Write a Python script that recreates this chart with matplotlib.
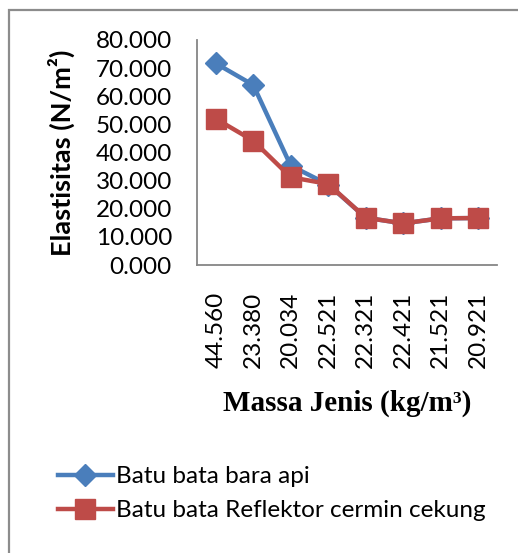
import matplotlib
matplotlib.use("Agg")
import matplotlib.pyplot as plt
from matplotlib.patches import Rectangle
from matplotlib.ticker import FuncFormatter, MultipleLocator

categories = ["44.560", "23.380", "20.034", "22.521", "22.321", "22.421", "21.521", "20.921"]
bara_api = [71.7, 64.0, 35.3, 28.6, 16.8, 14.8, 16.6, 16.7]
reflektor = [52.0, 44.2, 31.2, 28.8, 16.8, 14.8, 16.6, 16.7]
series_names = ["Batu bata bara api", "Batu bata Reflektor cermin cekung"]

W, H = 518, 553
fig = plt.figure(figsize=(W / 100, H / 100), dpi=100)
fig.patch.set_facecolor("white")

# outer chart frame
fig.patches.append(Rectangle((9 / W, -0.05), 1.2, (H - 10) / H + 0.05, transform=fig.transFigure,
                             fill=False, edgecolor="#8c8c8c", linewidth=1.6))

ax = fig.add_axes([197 / W, 1 - 265 / H, 300 / W, 225 / H])
x = list(range(len(categories)))
ax.plot(x, bara_api, color="#4a7ebb", linewidth=3.2, marker="D", markersize=11.5,
        markerfacecolor="#4a7ebb", markeredgecolor="#4a7ebb", label=series_names[0], zorder=3)
ax.plot(x, reflektor, color="#be4b48", linewidth=3.2, marker="s", markersize=14,
        markerfacecolor="#be4b48", markeredgecolor="#be4b48", label=series_names[1], zorder=4)

ax.set_xlim(-0.5, len(categories) - 0.5)
ax.set_ylim(0, 80)
ax.yaxis.set_major_locator(MultipleLocator(10))
ax.yaxis.set_major_formatter(FuncFormatter(lambda v, p: f"{v:.3f}"))
ax.set_xticks(x)
ax.set_xticklabels(categories, rotation=90)

font = "Lato"
fs = 17.5
for lab in ax.get_yticklabels() + ax.get_xticklabels():
    lab.set_family(font)
    lab.set_fontsize(fs)
    lab.set_color("black")
ax.tick_params(axis="both", length=0)
ax.tick_params(axis="y", pad=18)
ax.tick_params(axis="x", pad=19)

for s in ["top", "right"]:
    ax.spines[s].set_visible(False)
for s in ["left", "bottom"]:
    ax.spines[s].set_color("#868686")
    ax.spines[s].set_linewidth(1.3)

fig.text(61 / W, 1 - 153 / H, "Elastisitas (N/m²)", rotation=90, ha="center", va="center",
         family=font, fontweight="bold", fontsize=19.5)
fig.text(347 / W, 1 - 403 / H, "Massa Jenis (kg/m³)", ha="center", va="center",
         family="Liberation Serif", fontweight="bold", fontsize=21)

handles, labels = ax.get_legend_handles_labels()
leg = fig.legend(handles, labels, loc="upper left", bbox_to_anchor=(58 / W, 1 - 466 / H),
                 frameon=False, prop={"family": font, "size": fs}, handlelength=2.25,
                 handletextpad=0.15, labelspacing=0.55, borderaxespad=0, borderpad=0)

fig.savefig("out.png", dpi=100, facecolor="white")
